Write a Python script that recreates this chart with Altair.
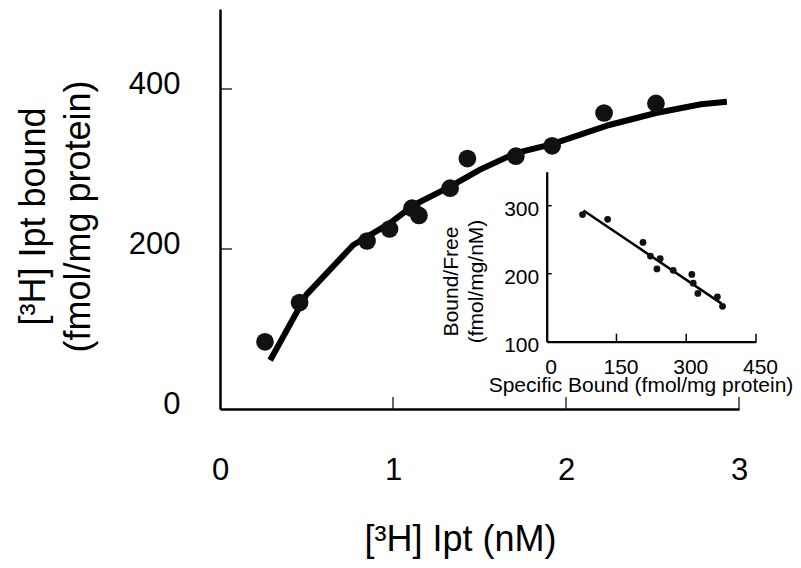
import altair as alt
import pandas as pd

FONT = "Liberation Sans"

# ---- main saturation binding data ----
conc = [0.26, 0.46, 0.85, 0.98, 1.11, 1.15, 1.33, 1.43, 1.71, 1.92, 2.22, 2.52]
bound = [84, 133, 210, 225, 251, 242, 276, 313, 316, 329, 370, 382]
fit_conc = [0.29, 0.50, 0.77, 0.98, 1.12, 1.33, 1.50, 1.71, 1.92, 2.25, 2.52, 2.78, 2.93]
fit_bound = [61, 143, 205, 232, 255, 278, 299, 320, 331, 355, 370, 381, 384]
main_xlabels = [0, 1, 2, 3]
main_ylabels = [0, 200, 400]
main_xticks = [1, 2, 3]
main_yticks = [200, 400]

# ---- Scatchard inset data ----
spec_bound = [77, 131, 207, 223, 244, 237, 272, 312, 315, 325, 367, 378]
bound_free = [287, 280, 246, 226, 222, 207, 205, 199, 186, 171, 166, 152]
line_sb = [79, 376]
line_bf = [293, 156]
inset_xlabels = [0, 150, 300, 450]
inset_ylabels = [100, 200, 300]
inset_xticks = [150, 300, 450]
inset_yticks = [200, 300]

W, H = 519, 400

# inset placement inside the plot area (pixels)
IX0, IX1 = 326.7, 536.0
IY0, IY1 = 332.7, 162.7

main_x_axis = alt.Axis(
    values=main_xlabels, format="d", ticks=False, tickSize=0, grid=False,
    labelFontSize=31, labelPadding=46, labelFlush=False, labelOverlap=False,
    domainWidth=2.5, title="[³H] Ipt (nM)", titleFontSize=36,
    titleX=240, titleY=141, titleBaseline="alphabetic", titleAlign="center",
)
main_y_axis = alt.Axis(
    values=main_ylabels, format="d", ticks=False, tickSize=0, grid=False,
    labelFontSize=31, labelPadding=40, labelOffset=-5, labelFlush=False, labelOverlap=False,
    domainWidth=2.5, title=["[³H] Ipt bound", "(fmol/mg protein)"], titleFontSize=36,
    titleAngle=270, titleBaseline="bottom", titleAlign="center",
    titleX=-168, titleY=207, titleLineHeight=45,
)
mx = alt.Scale(domain=[0, 3], nice=False, zero=False)
my = alt.Scale(domain=[0, 500], nice=False, zero=False)

df_pts = pd.DataFrame({"x": conc, "y": bound})
df_fit = pd.DataFrame({"x": fit_conc, "y": fit_bound})
df_mxt = pd.DataFrame({"x": main_xticks})
df_myt = pd.DataFrame({"y": main_yticks})

main_line = alt.Chart(df_fit).mark_line(color="black", strokeWidth=6, strokeJoin="miter").encode(
    x=alt.X("x:Q", scale=mx, axis=main_x_axis),
    y=alt.Y("y:Q", scale=my, axis=main_y_axis),
)
main_pts = alt.Chart(df_pts).mark_circle(color="#111111", opacity=1, size=314).encode(
    x=alt.X("x:Q", scale=mx, axis=main_x_axis),
    y=alt.Y("y:Q", scale=my, axis=main_y_axis),
)
main_xt = alt.Chart(df_mxt).mark_rule(color="black", strokeWidth=1.2).encode(
    x=alt.X("x:Q", scale=mx, axis=main_x_axis),
    y=alt.value(H), y2=alt.value(H - 12),
)
main_yt = alt.Chart(df_myt).mark_rule(color="black", strokeWidth=1.2).encode(
    y=alt.Y("y:Q", scale=my, axis=main_y_axis),
    x=alt.value(0), x2=alt.value(12),
)
main = alt.layer(main_line, main_pts, main_xt, main_yt)

inset_x_axis = alt.Axis(
    values=inset_xlabels, format="d", orient="bottom", offset=-(H - IY0),
    ticks=False, tickSize=0, grid=False,
    labelFontSize=21, labelPadding=15, labelOffset=4, labelFlush=False, labelOverlap=False,
    domainWidth=2.3, title="Specific Bound (fmol/mg protein)", titleFontSize=21,
    titleX=420.5, titleY=49.5, titleBaseline="alphabetic", titleAlign="center",
)
inset_y_axis = alt.Axis(
    values=inset_ylabels, format="d", orient="left", offset=-IX0,
    ticks=False, tickSize=0, grid=False,
    labelFontSize=21, labelPadding=8, labelOffset=4, labelFlush=False, labelOverlap=False,
    domainWidth=2.3, title=["Bound/Free", "(fmol/mg/nM)"], titleFontSize=21,
    titleAngle=270, titleBaseline="bottom", titleAlign="center",
    titleX=-85, titleY=272, titleLineHeight=25,
)
ix = alt.Scale(domain=[0, 450], range=[IX0, IX1], nice=False, zero=False)
iy = alt.Scale(domain=[100, 350], range=[IY0, IY1], nice=False, zero=False)

df_ipts = pd.DataFrame({"x": spec_bound, "y": bound_free})
df_iline = pd.DataFrame({"x": line_sb, "y": line_bf})
df_ixt = pd.DataFrame({"x": inset_xticks})
df_iyt = pd.DataFrame({"y": inset_yticks})

inset_line = alt.Chart(df_iline).mark_line(color="black", strokeWidth=2.5).encode(
    x=alt.X("x:Q", scale=ix, axis=inset_x_axis),
    y=alt.Y("y:Q", scale=iy, axis=inset_y_axis),
)
inset_pts = alt.Chart(df_ipts).mark_circle(color="#111111", opacity=1, size=46).encode(
    x=alt.X("x:Q", scale=ix, axis=inset_x_axis),
    y=alt.Y("y:Q", scale=iy, axis=inset_y_axis),
)
inset_xt = alt.Chart(df_ixt).mark_rule(color="black", strokeWidth=1.5).encode(
    x=alt.X("x:Q", scale=ix, axis=inset_x_axis),
    y=alt.value(IY0), y2=alt.value(IY0 - 8),
)
inset_yt = alt.Chart(df_iyt).mark_rule(color="black", strokeWidth=1.5).encode(
    y=alt.Y("y:Q", scale=iy, axis=inset_y_axis),
    x=alt.value(IX0), x2=alt.value(IX0 + 5),
)
inset = alt.layer(inset_line, inset_pts, inset_xt, inset_yt)

chart = (
    alt.layer(main, inset)
    .resolve_scale(x="independent", y="independent")
    .resolve_axis(x="independent", y="independent")
    .properties(
        width=W, height=H,
        autosize=alt.AutoSizeParams(type="none"),
        padding={"left": 220, "top": 9, "right": 801 - 220 - W, "bottom": 568 - 9 - H},
        background="white",
    )
    .configure(font=FONT)
    .configure_axis(
        labelFont=FONT, titleFont=FONT, labelColor="black", titleColor="black",
        domainColor="black", titleFontWeight="normal",
    )
    .configure_view(stroke=None)
)

chart.save("out.html", embed_options={"renderer": "svg", "actions": False})
